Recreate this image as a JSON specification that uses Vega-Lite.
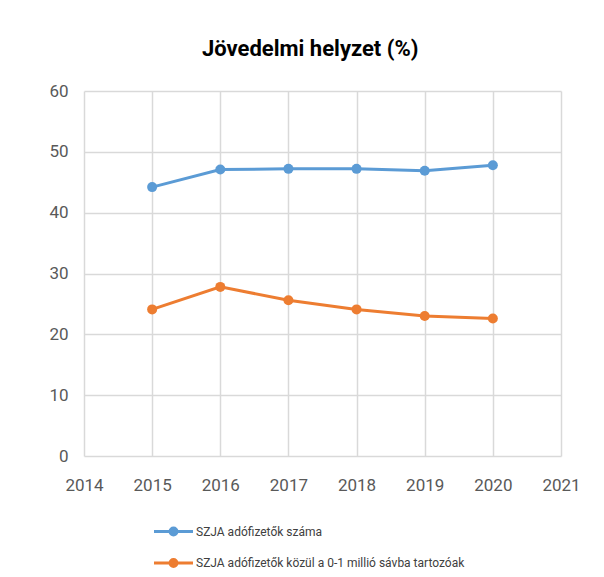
{
  "$schema": "https://vega.github.io/schema/vega-lite/v6.json",
  "autosize": {"type": "none"},
  "padding": {"left": 84, "top": 91, "right": 43, "bottom": 121},
  "width": 477,
  "height": 365,
  "background": "white",
  "title": {
    "text": "Jövedelmi helyzet (%)",
    "anchor": "start",
    "frame": "group",
    "dx": 118,
    "offset": 4,
    "baseline": "alphabetic",
    "font": "Roboto",
    "fontSize": 22,
    "fontWeight": "bold",
    "color": "#000000"
  },
  "config": {
    "view": {"stroke": null},
    "axis": {
      "gridColor": "#d9d9d9",
      "gridWidth": 1.5,
      "domain": false,
      "ticks": false,
      "tickSize": 0,
      "labelFont": "Roboto",
      "labelFontSize": 17,
      "labelColor": "#595959",
      "title": null
    }
  },
  "data": {
    "values": [
      {"year": 2015, "value": 44.2, "series": "SZJA adófizetők száma"},
      {"year": 2016, "value": 47.1, "series": "SZJA adófizetők száma"},
      {"year": 2017, "value": 47.2, "series": "SZJA adófizetők száma"},
      {"year": 2018, "value": 47.2, "series": "SZJA adófizetők száma"},
      {"year": 2019, "value": 46.9, "series": "SZJA adófizetők száma"},
      {"year": 2020, "value": 47.8, "series": "SZJA adófizetők száma"},
      {"year": 2015, "value": 24.1, "series": "SZJA adófizetők közül a 0-1 millió sávba tartozóak"},
      {"year": 2016, "value": 27.8, "series": "SZJA adófizetők közül a 0-1 millió sávba tartozóak"},
      {"year": 2017, "value": 25.6, "series": "SZJA adófizetők közül a 0-1 millió sávba tartozóak"},
      {"year": 2018, "value": 24.1, "series": "SZJA adófizetők közül a 0-1 millió sávba tartozóak"},
      {"year": 2019, "value": 23.0, "series": "SZJA adófizetők közül a 0-1 millió sávba tartozóak"},
      {"year": 2020, "value": 22.6, "series": "SZJA adófizetők közül a 0-1 millió sávba tartozóak"}
    ]
  },
  "mark": {"type": "line", "strokeWidth": 3, "point": {"filled": true, "size": 100, "opacity": 1}},
  "encoding": {
    "x": {
      "field": "year",
      "type": "quantitative",
      "scale": {"domain": [2014, 2021], "nice": false, "zero": false},
      "axis": {"values": [2014, 2015, 2016, 2017, 2018, 2019, 2020, 2021], "format": "d", "labelPadding": 21, "labelFlush": false}
    },
    "y": {
      "field": "value",
      "type": "quantitative",
      "scale": {"domain": [0, 60], "nice": false},
      "axis": {"values": [0, 10, 20, 30, 40, 50, 60], "labelPadding": 16}
    },
    "color": {
      "field": "series",
      "type": "nominal",
      "sort": null,
      "scale": {
        "domain": ["SZJA adófizetők száma", "SZJA adófizetők közül a 0-1 millió sávba tartozóak"],
        "range": ["#5B9BD5", "#ED7D31"]
      },
      "legend": {
        "title": null,
        "orient": "none",
        "legendX": 78,
        "legendY": 429,
        "direction": "vertical",
        "padding": 0,
        "rowPadding": 10.5,
        "symbolType": "M-2,0H2M-0.35,0A0.35,0.35,0,1,1,0.35,0A0.35,0.35,0,1,1,-0.35,0Z",
        "symbolSize": 380,
        "symbolStrokeWidth": 3,
        "labelOffset": 11,
        "labelFont": "Roboto",
        "labelFontSize": 12,
        "labelColor": "#404040",
        "labelLimit": 400,
        "encode": {
          "symbols": {"update": {"fill": {"scale": "color", "field": "value"}, "opacity": {"value": 1}}}
        }
      }
    }
  }
}
